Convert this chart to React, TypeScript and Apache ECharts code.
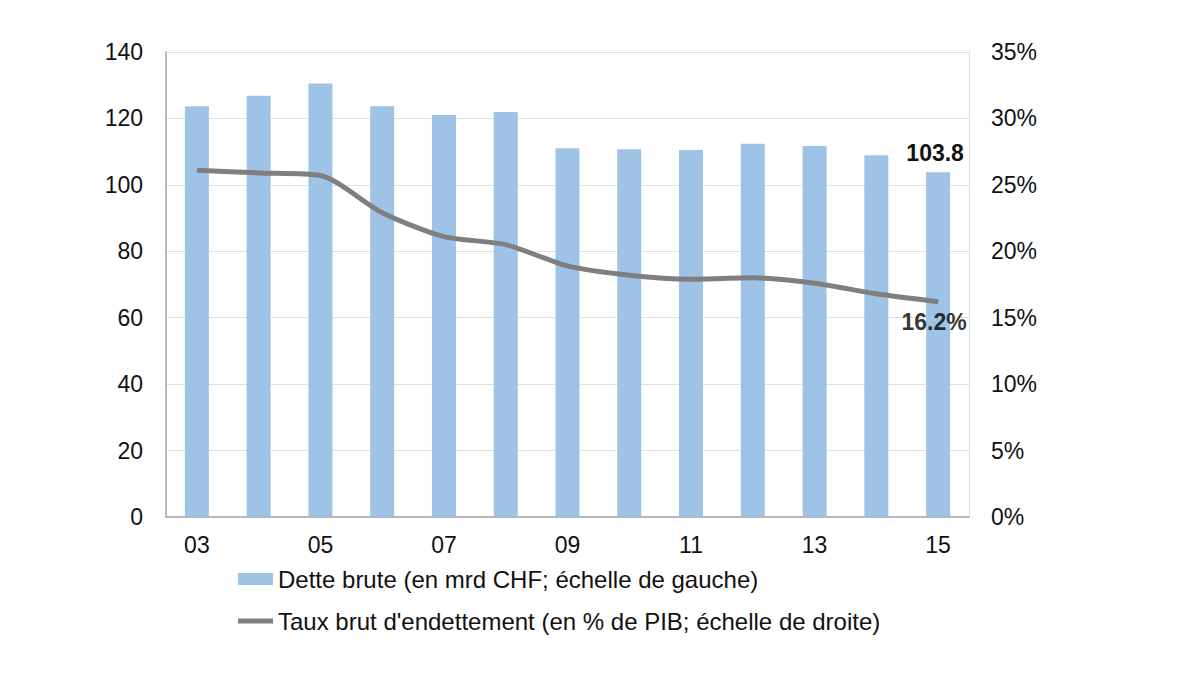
import { useEffect, useRef } from "react";
import * as echarts from "echarts";

const years = ["03", "04", "05", "06", "07", "08", "09", "10", "11", "12", "13", "14", "15"];
const detteBrute = [123.7, 126.8, 130.5, 123.7, 121.0, 121.9, 111.0, 110.7, 110.5, 112.4, 111.7, 108.9, 103.8];
const tauxEndettement = [26.1, 25.9, 25.7, 22.9, 21.1, 20.5, 18.9, 18.2, 17.9, 18.0, 17.6, 16.8, 16.2];

const NOM_BARRES = "Dette brute (en mrd CHF; échelle de gauche)";
const NOM_LIGNE = "Taux brut d'endettement (en % de PIB; échelle de droite)";

const FONT = "'Liberation Sans', Arial, sans-serif";

// icône de légende: trait horizontal (les petits triangles fixent la hauteur de la boîte)
const ICONE_TRAIT =
    "path://M0,0L0.05,0L0.05,0.05Z M0,3.5L35,3.5L35,8.5L0,8.5Z M0,12L0.05,12L0.05,11.95Z";

export default function App() {
    const chartRef = useRef<HTMLDivElement>(null);

    useEffect(() => {
        if (!chartRef.current) return;
        const chart = echarts.init(chartRef.current, undefined, { renderer: "svg" });
        const last = years.length - 1;

        chart.setOption({
            animation: false,
            textStyle: { fontFamily: FONT },
            grid: { left: 166, right: 231, top: 52, bottom: 158 },
            legend: {
                orient: "vertical",
                left: 233,
                top: 562,
                itemGap: 18,
                itemWidth: 35,
                itemHeight: 12,
                textStyle: { fontSize: 24, color: "#111", fontFamily: FONT },
                data: [
                    { name: NOM_BARRES, icon: "rect" },
                    { name: NOM_LIGNE, icon: ICONE_TRAIT },
                ],
            },
            xAxis: {
                type: "category",
                data: years,
                axisTick: { show: false },
                axisLine: { lineStyle: { color: "#a6a6a6", width: 1.5 } },
                axisLabel: { interval: 1, fontSize: 23, color: "#111", margin: 16 },
            },
            yAxis: [
                {
                    type: "value",
                    min: 0,
                    max: 140,
                    interval: 20,
                    axisLine: { show: true, lineStyle: { color: "#a6a6a6", width: 1.5 } },
                    axisTick: { show: false },
                    axisLabel: { fontSize: 23, color: "#111", margin: 23 },
                    splitLine: { lineStyle: { color: "#e0e0e0" } },
                },
                {
                    type: "value",
                    min: 0,
                    max: 35,
                    interval: 5,
                    axisLine: { show: true, lineStyle: { color: "#dcdcdc" } },
                    axisTick: { show: false },
                    axisLabel: { fontSize: 23, color: "#111", margin: 22, formatter: "{value}%" },
                    splitLine: { show: false },
                },
            ],
            series: [
                {
                    name: NOM_BARRES,
                    type: "bar",
                    barWidth: 24,
                    itemStyle: { color: "#9fc3e7" },
                    data: detteBrute.map((v, i) =>
                        i === last
                            ? {
                                  value: v,
                                  label: {
                                      show: true,
                                      position: "top",
                                      distance: 8,
                                      offset: [-3, 0],
                                      fontSize: 23,
                                      fontWeight: "bold",
                                      color: "#111",
                                      formatter: (p: any) => p.value.toFixed(1),
                                  },
                              }
                            : v
                    ),
                },
                {
                    name: NOM_LIGNE,
                    type: "line",
                    yAxisIndex: 1,
                    smooth: 0.25,
                    symbol: "none",
                    lineStyle: { color: "#7f7f7f", width: 5 },
                    itemStyle: { color: "#7f7f7f" },
                    data: tauxEndettement,
                },
                {
                    // étiquette de la dernière valeur du taux
                    name: "label-taux",
                    type: "scatter",
                    yAxisIndex: 1,
                    symbolSize: 0,
                    silent: true,
                    data: tauxEndettement.map((v, i) => (i === last ? v : "-")),
                    label: {
                        show: true,
                        position: "bottom",
                        distance: 9,
                        offset: [-4, 0],
                        fontSize: 23,
                        fontWeight: "bold",
                        color: "#000",
                        formatter: (p: any) => Number(p.value).toFixed(1) + "%",
                    },
                },
            ],
        });

        return () => {
            chart.dispose();
        };
    }, []);

    return (
        <div
            ref={chartRef}
            style={{ position: "fixed", left: 0, top: 0, width: 1200, height: 675, background: "#fff" }}
        />
    );
}
